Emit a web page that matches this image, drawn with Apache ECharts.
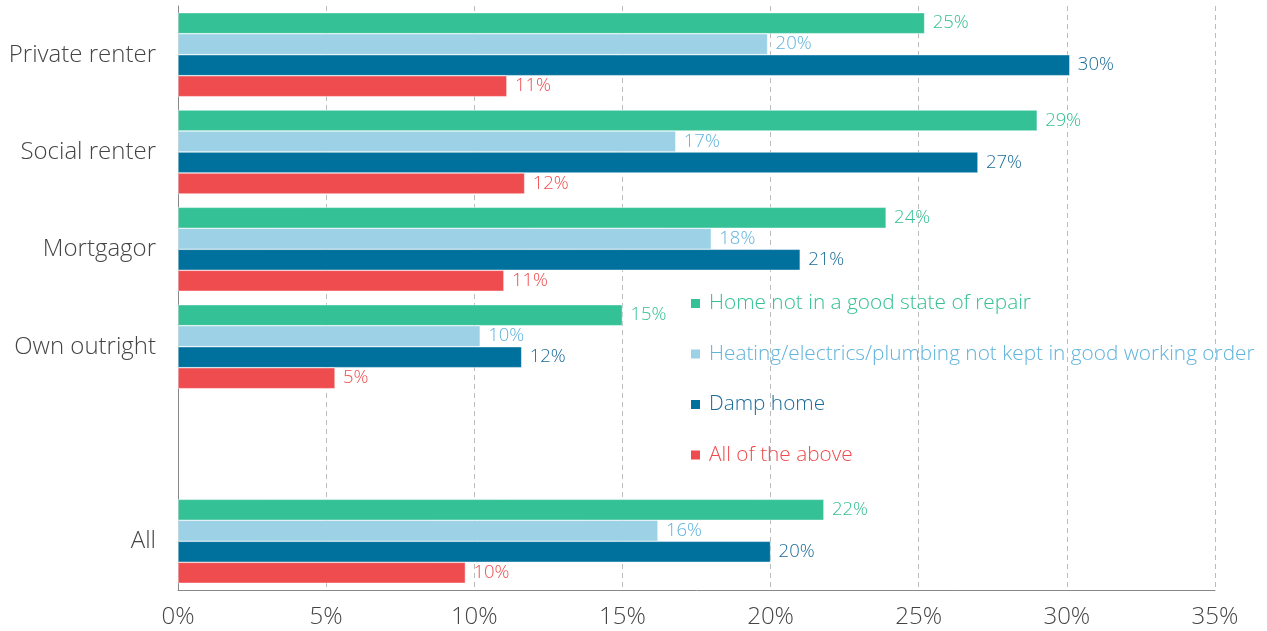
<!DOCTYPE html>
<html>
<head>
<meta charset="utf-8">
<script src="https://cdn.jsdelivr.net/npm/echarts@6/dist/echarts.min.js"></script>
<style>
  html, body { margin: 0; padding: 0; background: #fff; }
  #chart { width: 1267px; height: 631px; }
</style>
</head>
<body>
<div id="chart"></div>
<script>
// tenure groups (blank row leaves room for the legend)
const categories = ['Private renter', 'Social renter', 'Mortgagor', 'Own outright', '', 'All']
const seriesNames = [
  'Home not in a good state of repair',
  'Heating/electrics/plumbing not kept in good working order',
  'Damp home',
  'All of the above'
]
const repair = [25.2, 29.0, 23.9, 15.0, null, 21.8]
const heating = [19.9, 16.8, 18.0, 10.2, null, 16.2]
const damp = [30.1, 27.0, 21.0, 11.6, null, 20.0]
const allAbove = [11.1, 11.7, 11.0, 5.3, null, 9.7]
const xTicks = [0, 5, 10, 15, 20, 25, 30, 35]

const barColors = ['#33c195', '#9dd1e6', '#00709c', '#ef4c4f']
const labelColors = ['#35c093', '#5fb3dc', '#1b6c99', '#ef4b4d']
const FONT = '"Open Sans", Roboto, sans-serif'

const chart = echarts.init(document.getElementById('chart'))

const makeSeries = (name, data, i) => ({
  name,
  type: 'bar',
  data,
  barWidth: 21,
  barGap: '0%',
  itemStyle: { color: barColors[i], borderColor: '#fff', borderWidth: 0.5 },
  label: {
    show: true,
    position: 'right',
    distance: 8,
    color: labelColors[i],
    fontSize: 18.5,
    fontWeight: 300,
    fontFamily: FONT,
    formatter: p => Math.round(p.value) + '%'
  }
})

chart.setOption({
  animation: false,
  textStyle: { fontFamily: FONT },
  grid: { left: 178, right: 52, top: 6, bottom: 41 },
  legend: {
    orient: 'vertical',
    left: 684,
    top: 288,
    itemWidth: 11,
    itemHeight: 11,
    itemGap: 29.5,
    icon: 'rect',
    data: seriesNames.map((n, i) => ({ name: n, textStyle: { color: labelColors[i] } })),
    textStyle: { fontSize: 20.8, fontWeight: 300, fontFamily: FONT, padding: [0, 0, 0, 3] }
  },
  xAxis: {
    type: 'value',
    min: xTicks[0],
    max: xTicks[xTicks.length - 1],
    interval: 5,
    axisLine: { show: true, lineStyle: { color: '#888' } },
    axisTick: { show: false },
    axisLabel: { formatter: '{value}%', color: '#444', fontSize: 24, fontWeight: 300, margin: 15 },
    splitLine: { show: true, lineStyle: { color: '#bbb', type: [5, 4] } }
  },
  yAxis: {
    type: 'category',
    data: categories,
    inverse: true,
    axisLine: { show: true, lineStyle: { color: '#888' } },
    axisTick: { show: false },
    axisLabel: { color: '#444', fontSize: 24, fontWeight: 300, margin: 22 }
  },
  series: [
    makeSeries(seriesNames[0], repair, 0),
    makeSeries(seriesNames[1], heating, 1),
    makeSeries(seriesNames[2], damp, 2),
    makeSeries(seriesNames[3], allAbove, 3)
  ]
})
</script>
</body>
</html>
